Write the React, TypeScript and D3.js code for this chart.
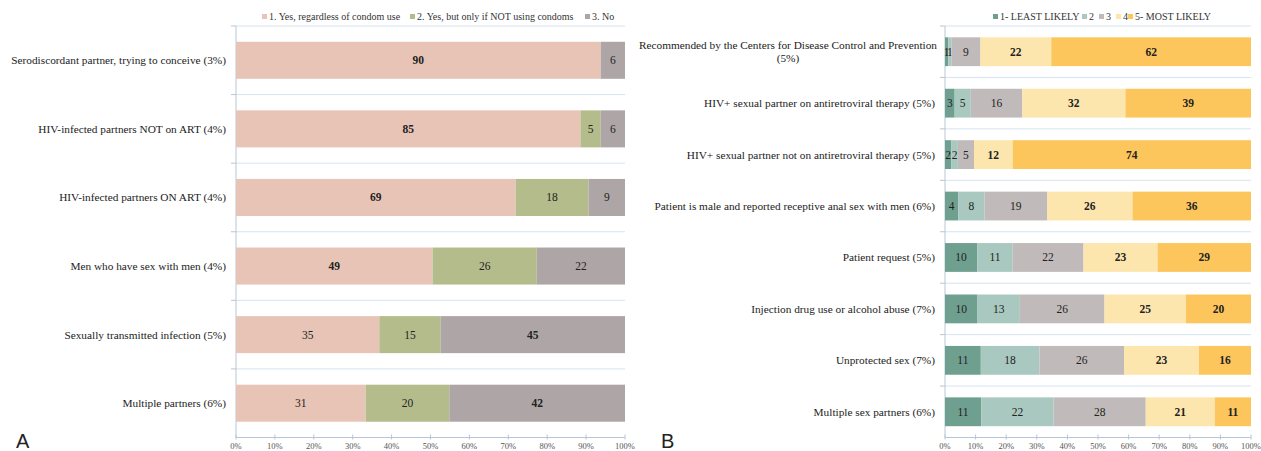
import React from "react";
import * as d3 from "d3";

const catsA = [
  "Serodiscordant partner, trying to conceive (3%)",
  "HIV-infected partners NOT on ART (4%)",
  "HIV-infected partners ON ART (4%)",
  "Men who have sex with men (4%)",
  "Sexually transmitted infection (5%)",
  "Multiple partners (6%)",
];
const seriesA = ["1. Yes, regardless of condom use", "2. Yes, but only if NOT using condoms", "3. No"];
const yesAny = [90, 85, 69, 49, 35, 31];
const yesNoCondom = [0, 5, 18, 26, 15, 20];
const noA = [6, 6, 9, 22, 45, 42];
const colorsA = ["#e7c4b6", "#b4bc8c", "#aea6a6"];

const catsB = [
  ["Recommended by the Centers for Disease Control and Prevention", "(5%)"],
  ["HIV+ sexual partner on antiretroviral therapy (5%)"],
  ["HIV+ sexual partner not on antiretroviral therapy (5%)"],
  ["Patient is male and reported receptive anal sex with men (6%)"],
  ["Patient request (5%)"],
  ["Injection drug use or alcohol abuse (7%)"],
  ["Unprotected sex (7%)"],
  ["Multiple sex partners (6%)"],
];
const seriesB = ["1- LEAST LIKELY", "2", "3", "4", "5- MOST LIKELY"];
const least = [1, 3, 2, 4, 10, 10, 11, 11];
const lvl2 = [1, 5, 2, 8, 11, 13, 18, 22];
const lvl3 = [9, 16, 5, 19, 22, 26, 26, 28];
const lvl4 = [22, 32, 12, 26, 23, 25, 23, 21];
const most = [62, 39, 74, 36, 29, 20, 16, 11];
const colorsB = ["#6f9f8f", "#a9c8bf", "#c1baba", "#fde6ae", "#fcc65c"];
const boldB = [false, false, false, true, true];

const xTicks = [0, 0.1, 0.2, 0.3, 0.4, 0.5, 0.6, 0.7, 0.8, 0.9, 1];

const FONT = "'Liberation Serif', 'Times New Roman', serif";
const TOP = 26;
const BOTTOM = 437.5;

type PanelProps = {
  labels: string[][];
  series: string[];
  values: number[][];
  colors: string[];
  x0: number;
  x1: number;
  barFrac: number;
  isBold: (row: number, s: number, vals: number[]) => boolean;
  legendX: number[];
};

function Panel({ labels, series, values, colors, x0, x1, barFrac, isBold, legendX }: PanelProps) {
  const n = labels.length;
  const rows = d3.range(n);
  const data = rows.map((i) => {
    const o: any = { i };
    series.forEach((s, k) => (o[k] = values[k][i]));
    return o;
  });
  const stack = d3
    .stack<any>()
    .keys(series.map((_, k) => String(k)))
    .offset(d3.stackOffsetExpand);
  const stacked = stack(data);
  const x = d3.scaleLinear().domain([0, 1]).range([x0, x1]);
  const y = d3.scaleBand<number>().domain(rows).range([TOP, BOTTOM]).paddingInner(0).paddingOuter(0);
  const bh = y.bandwidth() * barFrac;
  const gridColor = "#d6e3ee";
  return (
    <g>
      {rows.map((i) => (
        <line key={"g" + i} x1={x0} x2={x1} y1={y(i)!} y2={y(i)!} stroke={gridColor} strokeWidth={1} />
      ))}
      <line x1={x0} x2={x0} y1={TOP} y2={BOTTOM} stroke="#b7c6d6" strokeWidth={1} />
      {rows.map((i) => (
        <line key={"lt" + i} x1={x0 - 5} x2={x0} y1={y(i)!} y2={y(i)!} stroke="#b7c6d6" strokeWidth={1} />
      ))}
      <line x1={x0} x2={x1} y1={BOTTOM} y2={BOTTOM} stroke="#b7c6d6" strokeWidth={1} />
      {xTicks.map((t) => (
        <g key={"xt" + t}>
          <line x1={x(t)} x2={x(t)} y1={BOTTOM - 3} y2={BOTTOM + 2} stroke="#b7c6d6" strokeWidth={1} />
          <text x={x(t)} y={449} textAnchor="middle" fontFamily={FONT} fontSize={8.5} fill="#555">
            {d3.format(".0%")(t)}
          </text>
        </g>
      ))}
      {stacked.map((layer, k) =>
        layer.map((d, i) => {
          const v = values[k][i];
          if (!v) return null;
          const yc = y(i)! + y.bandwidth() / 2;
          const xa = x(d[0]);
          const xb = x(d[1]);
          return (
            <g key={"b" + k + "-" + i}>
              <rect x={xa} y={yc - bh / 2} width={xb - xa} height={bh} fill={colors[k]} />
              <text
                x={(xa + xb) / 2}
                y={yc + 4}
                textAnchor="middle"
                fontFamily={FONT}
                fontSize={11.5}
                fontWeight={isBold(i, k, values.map((s) => s[i])) ? "bold" : "normal"}
                fill="#222"
              >
                {v}
              </text>
            </g>
          );
        })
      )}
      {labels.map((lines, i) => {
        const yc = y(i)! + y.bandwidth() / 2;
        if (lines.length === 1)
          return (
            <text key={"l" + i} x={x0 - 10} y={yc + 4} textAnchor="end" fontFamily={FONT} fontSize={11.3} fill="#222">
              {lines[0]}
            </text>
          );
        return (
          <text key={"l" + i} x={x0 - 157} y={yc - 3} textAnchor="middle" fontFamily={FONT} fontSize={11.3} fill="#222">
            {lines.map((ln, j) => (
              <tspan key={j} x={x0 - 157} dy={j === 0 ? 0 : 13}>
                {ln}
              </tspan>
            ))}
          </text>
        );
      })}
      {series.map((s, k) => (
        <g key={"lg" + k}>
          <rect x={legendX[k]} y={14} width={5} height={5} fill={colors[k]} />
          <text x={legendX[k] + 7} y={20} fontFamily={FONT} fontSize={10} fill="#333">
            {s}
          </text>
        </g>
      ))}
    </g>
  );
}

export default function App() {
  const valsA = [yesAny, yesNoCondom, noA];
  const valsB = [least, lvl2, lvl3, lvl4, most];
  return (
    <svg
      width={1261}
      height={451}
      style={{ position: "absolute", left: 0, top: 0, background: "#fff" }}
    >
      <Panel
        labels={catsA.map((c) => [c])}
        series={seriesA}
        values={valsA}
        colors={colorsA}
        x0={236}
        x1={625}
        barFrac={0.54}
        isBold={(row, s, vals) => vals[s] === Math.max(...vals)}
        legendX={[262, 410, 585]}
      />
      <Panel
        labels={catsB}
        series={seriesB}
        values={valsB}
        colors={colorsB}
        x0={945}
        x1={1251}
        barFrac={0.56}
        isBold={(row, s) => boldB[s]}
        legendX={[993, 1082, 1099, 1116, 1128]}
      />
      <text x={16} y={448} fontFamily="'Liberation Sans', Arial, sans-serif" fontSize={20} fill="#222">
        A
      </text>
      <text x={661} y={448} fontFamily="'Liberation Sans', Arial, sans-serif" fontSize={20} fill="#222">
        B
      </text>
    </svg>
  );
}
